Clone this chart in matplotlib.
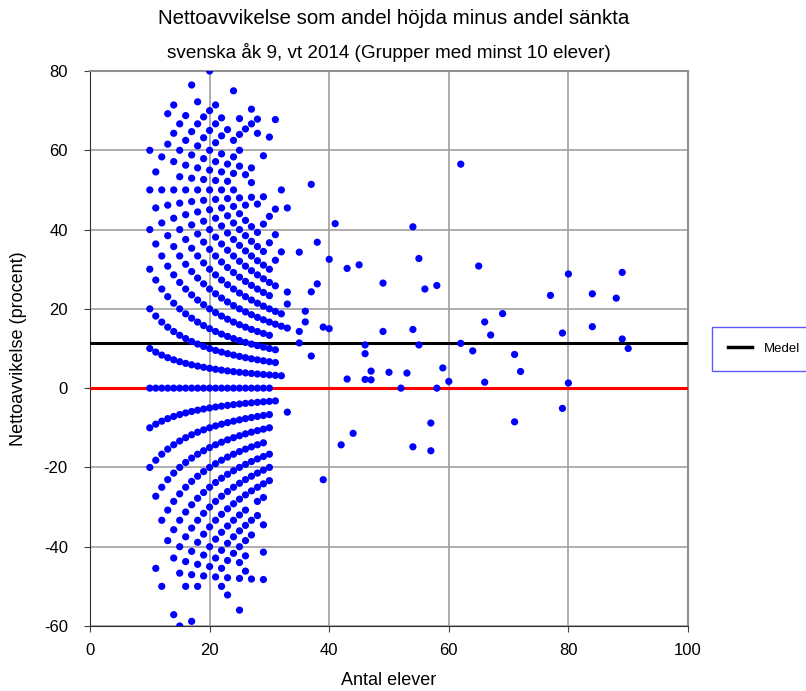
import matplotlib
matplotlib.use("Agg")
import matplotlib.pyplot as plt
from matplotlib.lines import Line2D

plt.rcParams['font.family'] = ['Liberation Sans', 'DejaVu Sans']
plt.rcParams['axes.unicode_minus'] = False

# Group sizes (antal elever) for the dense part of the chart
group_sizes = [10, 11, 12, 13, 14, 15, 16, 17, 18, 19, 20, 21,
               22, 23, 24, 25, 26, 27, 28, 29, 30, 31, 32, 33]

# Net number of students (raised minus lowered) observed for each group size
net_counts = [
    [-2, -1, 0, 1, 2, 3, 4, 5, 6],
    [-5, -3, -2, -1, 0, 1, 2, 3, 4, 5, 6],
    [-6, -4, -3, -2, -1, 0, 1, 2, 3, 4, 5, 6, 7],
    [-5, -4, -3, -2, -1, 0, 1, 2, 3, 4, 5, 6, 8, 9],
    [-8, -6, -5, -4, -3, -2, -1, 0, 1, 2, 3, 4, 5, 6, 7, 8, 9, 10],
    [-9, -7, -6, -5, -4, -3, -2, -1, 0, 1, 2, 3, 4, 5, 6, 7, 8, 9, 10],
    [-8, -7, -6, -5, -4, -3, -2, -1, 0, 1, 2, 3, 4, 5, 6, 7, 8, 9, 10, 11],
    [-10, -8, -7, -6, -5, -4, -3, -2, -1, 0, 1, 2, 3, 4, 5, 6, 7, 8, 9, 10, 11, 13],
    [-9, -8, -7, -6, -5, -4, -3, -2, -1, 0, 1, 2, 3, 4, 5, 6, 7, 8, 9, 10, 11, 12, 13],
    [-9, -8, -7, -6, -5, -4, -3, -2, -1, 0, 1, 2, 3, 4, 5, 6, 7, 8, 9, 10, 11, 12, 13],
    [-9, -8, -7, -6, -5, -4, -3, -2, -1, 0, 1, 2, 3, 4, 5, 6, 7, 8, 9, 10, 11, 12, 13, 14, 16],
    [-10, -9, -8, -7, -6, -5, -4, -3, -2, -1, 0, 1, 2, 3, 4, 5, 6, 7, 8, 9, 10, 11, 12, 13, 14, 15],
    [-11, -10, -9, -8, -7, -6, -5, -4, -3, -2, -1, 0, 1, 2, 3, 4, 5, 6, 7, 8, 9, 10, 11, 12, 13, 14, 15],
    [-12, -11, -10, -9, -8, -7, -6, -5, -4, -3, -2, -1, 0, 1, 2, 3, 4, 5, 6, 7, 8, 9, 10, 11, 12, 13, 15],
    [-10, -9, -8, -7, -6, -5, -4, -3, -2, -1, 0, 1, 2, 3, 4, 5, 6, 7, 8, 9, 10, 11, 12, 13, 14, 15, 18],
    [-14, -12, -11, -10, -9, -8, -7, -6, -5, -4, -3, -2, -1, 0, 1, 2, 3, 4, 5, 6, 7, 8, 9, 10, 11, 12, 14, 15, 16, 17],
    [-12, -11, -10, -9, -8, -7, -6, -5, -4, -3, -2, -1, 0, 1, 2, 3, 4, 5, 6, 7, 8, 9, 10, 11, 12, 14, 17],
    [-13, -10, -9, -7, -6, -5, -4, -3, -2, -1, 0, 1, 2, 3, 4, 5, 6, 7, 8, 9, 10, 11, 13, 14, 15, 18, 19],
    [-9, -8, -7, -6, -5, -4, -3, -2, -1, 0, 1, 2, 3, 4, 5, 6, 7, 8, 9, 10, 11, 13, 18, 19],
    [-14, -12, -10, -8, -7, -6, -5, -4, -3, -2, -1, 0, 1, 2, 3, 4, 5, 6, 7, 8, 9, 10, 12, 14, 17],
    [-7, -6, -5, -3, -2, -1, 0, 1, 2, 3, 4, 5, 6, 7, 8, 9, 11, 13, 19],
    [-1, 1, 2, 3, 5, 6, 8, 10, 12, 14, 21],
    [1, 5, 6, 11, 16],
    [-2, 5, 7, 8, 15],
]

# Larger groups, read directly as percentages
large_sizes = [35, 35, 35, 36, 36, 37, 37, 37, 38, 38, 39, 39, 40, 40, 41, 42,
               43, 43, 44, 45, 46, 46, 46, 47, 47, 49, 49, 50, 52, 53, 54, 54,
               54, 55, 55, 56, 57, 57, 58, 58, 59, 60, 62, 62, 64, 65, 66, 67,
               66, 69, 71, 72, 71, 77, 79, 80, 80, 79, 84, 84, 89, 88, 89, 90]
large_pct = [34.3, 14.3, 11.4, 19.4, 16.7, 51.4, 24.3, 8.1, 36.8, 26.3, 15.4, -23.1,
             32.5, 15.0, 41.5, -14.3, 30.2, 2.3, -11.4, 31.1, 10.9, 8.7, 2.2, 4.3,
             2.1, 26.5, 14.3, 4.0, 0.0, 3.8, 40.7, 14.8, -14.8, 32.7, 10.9, 25.0,
             -8.8, -15.8, 25.9, 0.0, 5.1, 1.7, 56.5, 11.3, 9.4, 30.8, 16.7, 13.4,
             1.5, 18.8, 8.5, 4.2, -8.5, 23.4, 13.9, 28.8, 1.3, -5.1, 23.8, 15.5,
             29.2, 22.7, 12.4, 10.0]

mean_value = 11.3

xs, ys = [], []
for n, counts in zip(group_sizes, net_counts):
    for k in counts:
        xs.append(n)
        ys.append(100.0 * k / n)
xs += large_sizes
ys += large_pct

fig = plt.figure(figsize=(8.06, 6.91), dpi=100)
ax = fig.add_axes([90 / 806, 1 - 626 / 691, (688 - 90) / 806, (626 - 71) / 691])

ax.scatter(xs, ys, s=27, color='#0000ff', edgecolors='none', zorder=4)
ax.axhline(0, color='#ff0000', lw=2.2, zorder=3)
ax.axhline(mean_value, color='black', lw=2.2, zorder=3)

ax.set_xlim(0, 100)
ax.set_ylim(-60, 80)
ax.set_xticks([0, 20, 40, 60, 80, 100])
ax.set_yticks([-60, -40, -20, 0, 20, 40, 60, 80])
ax.grid(True, color='#a0a0a0', lw=1.2, zorder=0)
ax.tick_params(labelsize=12, length=4, color='#404040')
ax.tick_params(axis='y', pad=12)
ax.tick_params(axis='x', pad=8)
for side in ['top', 'right']:
    ax.spines[side].set_color('#909090')
    ax.spines[side].set_linewidth(1.5)
for side in ['left', 'bottom']:
    ax.spines[side].set_color('#303030')

ax.set_xlabel('Antal elever', fontsize=13, labelpad=10)
ax.set_ylabel('Nettoavvikelse (procent)', fontsize=13, labelpad=12)

fig.text(394 / 806, 1 - 18 / 691, 'Nettoavvikelse som andel höjda minus andel sänkta',
         ha='center', va='center', fontsize=14.8)
fig.text(389 / 806, 1 - 52 / 691, 'svenska åk 9, vt 2014 (Grupper med minst 10 elever)',
         ha='center', va='center', fontsize=13.6)

handle = Line2D([], [], color='black', lw=2.5)
fig.legend([handle], ['Medel'], loc='upper left', bbox_to_anchor=(712 / 806, 1 - 327 / 691),
           fontsize=9.5, frameon=True, fancybox=False, edgecolor='#5a5aff', framealpha=1,
           handlelength=1.8, handletextpad=0.9, borderpad=1.2, borderaxespad=0)

fig.savefig('out.png', dpi=100)
